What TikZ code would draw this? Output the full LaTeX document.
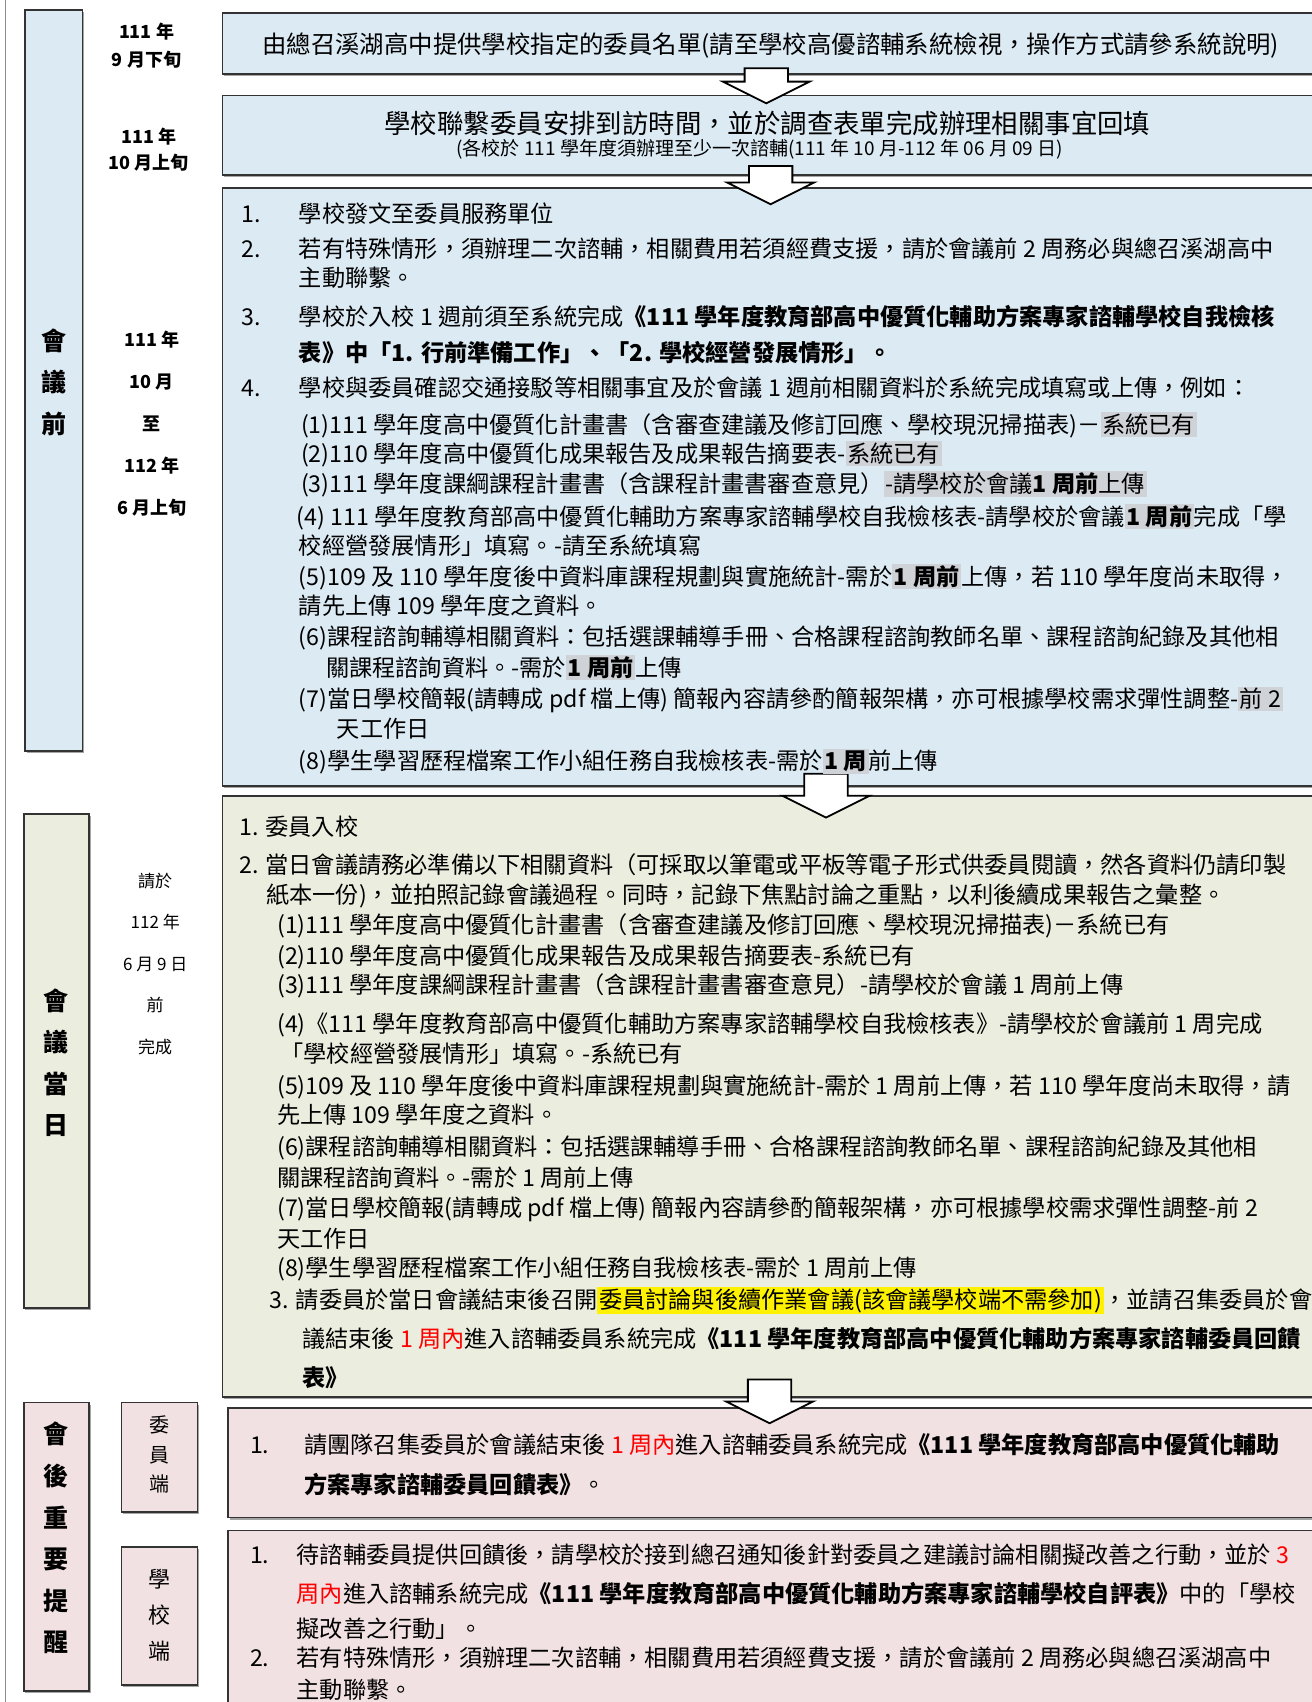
\documentclass[tikz,border=0pt]{standalone}
\usepackage{fontspec}
\setmainfont{Noto Sans CJK TC}
\usetikzlibrary{fit,calc,shadows}

\definecolor{boxblue}{HTML}{DCEAF4}
\definecolor{boxgreen}{HTML}{EBEEDF}
\definecolor{boxpink}{HTML}{F2E1E2}
\definecolor{hlgray}{HTML}{CFD3D8}
\definecolor{framegray}{HTML}{333333}

\newcommand{\graymark}[1]{{\setlength{\fboxsep}{0.8pt}\colorbox{hlgray}{#1}}}
\newcommand{\yellowmark}[1]{{\setlength{\fboxsep}{0.8pt}\colorbox{yellow}{#1}}}
\newcommand{\redmark}[1]{\textcolor{red}{#1}}
\newcommand{\flowarrow}[5]{%
  \coordinate (arr-x) at (#3,0);
  \draw[blockarrow] ($(arr-x |- #1.south)+(-20,#4)$) -- ($(arr-x |- #1.south)+(20,#4)$)
    -- ($(arr-x |- #2.north)+(20,#5)$) -- ($(arr-x |- #2.north)+(40,#5)$)
    -- ($(arr-x |- #2.north)+(0,{#5+20})$) -- ($(arr-x |- #2.north)+(-40,#5)$)
    -- ($(arr-x |- #2.north)+(-20,#5)$) -- cycle;}

\begin{document}
\begin{tikzpicture}[x=0.5427pt,y=-0.5427pt,
    mainbox/.style={draw=framegray,line width=0.9pt,inner sep=0pt,
      drop shadow={shadow xshift=0.8pt,shadow yshift=-1.1pt,fill=black!70}},
    sidebox/.style={mainbox},
    blockarrow/.style={draw=black,line width=0.9pt,fill=white,line join=miter},
    body/.style={anchor=west,inner sep=0pt,text height=10.2pt,text depth=1.4pt,
      font=\fontsize{11.6}{14}\selectfont},
    phaselabel/.style={align=center,inner sep=0pt,font=\bfseries\fontsize{12.5}{20.8}\selectfont},
    datelabel/.style={align=center,inner sep=0pt,font=\bfseries\fontsize{9}{14}\selectfont}]
  \fill[white] (0,0) rectangle (1208,1568);
  \useasboundingbox (0,0) rectangle (1208,1568);
  \draw[black!45,line width=0.6pt] (5,0) -- (5,1568);

  % phase column
  \node[sidebox,fill=boxblue,fit={(23,9) (76,692)}] (pre) {};
  \node[sidebox,fill=boxgreen,fit={(22,750) (82,1205)}] (day) {};
  \node[sidebox,fill=boxpink,fit={(22,1292) (82,1558)}] (post) {};
  \node[sidebox,fill=boxpink,fit={(112,1292) (182,1393)}] (post-cmte) {};
  \node[sidebox,fill=boxpink,fit={(112,1425) (182,1552)}] (post-school) {};
  \node[phaselabel] (pre-label) at (50,352) {會\\議\\前};
  \node[phaselabel] (day-label) at (52,979) {會\\議\\當\\日};
  \node[phaselabel] (post-label) at (52,1417) {會\\後\\重\\要\\提\\醒};
  \node[phaselabel,font=\fontsize{10}{14.9}\selectfont] (cmte-label) at (147,1340) {委\\員\\端};
  \node[phaselabel,font=\fontsize{11}{18.2}\selectfont] (school-label) at (147,1488) {學\\校\\端};

  % dates
  \node[datelabel] (date-a) at (135,42) {111 年\\9 月下旬};
  \node[datelabel,font=\bfseries\fontsize{9}{13}\selectfont] (date-b) at (137,138) {111 年\\10 月上旬};
  \node[datelabel,font=\bfseries\fontsize{9}{21}\selectfont] (date-c) at (140,390) {111 年\\10 月\\至\\112 年\\6 月上旬};
  \node[datelabel,font=\fontsize{8.5}{20.8}\selectfont] (date-d) at (143,888) {請於\\112 年\\6 月 9 日\\前\\完成};

  % steps
  \node[mainbox,fill=boxblue,fit={(205,12) (1215,68)}] (box-a) {};
  \node[mainbox,fill=boxblue,fit={(205,88) (1215,161)}] (box-b) {};
  \node[mainbox,fill=boxblue,fit={(205,173) (1215,724)}] (box-c) {};
  \node[mainbox,fill=boxgreen,fit={(205,733) (1215,1287)}] (box-d) {};
  \node[mainbox,fill=boxpink,fit={(210,1297) (1215,1398)}] (box-e) {};
  \node[mainbox,fill=boxpink,fit={(210,1410) (1215,1580)}] (box-f) {};

  \flowarrow{box-a}{box-b}{706}{-6}{-12}
  \flowarrow{box-b}{box-c}{710}{-9}{-4}
  \flowarrow{box-c}{box-d}{761}{-12}{1}
  \flowarrow{box-d}{box-e}{709}{-17}{-5}

  \node[inner sep=0pt,font=\fontsize{12.2}{14}\selectfont] (a-text) at (710,42) {由總召溪湖高中提供學校指定的委員名單(請至學校高優諮輔系統檢視，操作方式請參系統說明)};
  \node[inner sep=0pt,font=\fontsize{13.2}{15}\selectfont] (b-text) at (707,114) {學校聯繫委員安排到訪時間，並於調查表單完成辦理相關事宜回填};
  \node[inner sep=0pt,font=\fontsize{9.5}{11}\selectfont] (b-note) at (700,138) {(各校於 111 學年度須辦理至少一次諮輔(111 年 10 月-112 年 06 月 09 日)};

  % before the meeting
  \node[body] (c-n1) at (222,197) {1.};
  \node[body] (c1) at (275,197) {學校發文至委員服務單位};
  \node[body] (c-n2) at (222,229) {2.};
  \node[body] (c2a) at (275,229) {若有特殊情形，須辦理二次諮輔，相關費用若須經費支援，請於會議前 2 周務必與總召溪湖高中};
  \node[body] (c2b) at (275,256) {主動聯繫。};
  \node[body] (c-n3) at (222,292) {3.};
  \node[body] (c3a) at (275,292) {學校於入校 1 週前須至系統完成\textbf{《111 學年度教育部高中優質化輔助方案專家諮輔學校自我檢核}};
  \node[body] (c3b) at (275,325) {\textbf{表》中「1. 行前準備工作」、「2. 學校經營發展情形」。}};
  \node[body] (c-n4) at (222,357) {4.};
  \node[body] (c4) at (275,357) {學校與委員確認交通接駁等相關事宜及於會議 1 週前相關資料於系統完成填寫或上傳，例如：};
  \node[body] (c4-1) at (277,391) {(1)111 學年度高中優質化計畫書（含審查建議及修訂回應、學校現況掃描表)－\graymark{系統已有}};
  \node[body] (c4-2) at (277,418) {(2)110 學年度高中優質化成果報告及成果報告摘要表-\graymark{系統已有}};
  \node[body] (c4-3) at (277,446) {(3)111 學年度課綱課程計畫書（含課程計畫書審查意見）\graymark{-請學校於會議\textbf{1 周前}上傳}};
  \node[body] (c4-4a) at (273,476) {(4) 111 學年度教育部高中優質化輔助方案專家諮輔學校自我檢核表-請學校於會議\graymark{\textbf{1 周前}}完成「學};
  \node[body] (c4-4b) at (275,503) {校經營發展情形」填寫。-請至系統填寫};
  \node[body] (c4-5a) at (275,531) {(5)109 及 110 學年度後中資料庫課程規劃與實施統計-需於\graymark{\textbf{1 周前}}上傳，若 110 學年度尚未取得，};
  \node[body] (c4-5b) at (275,558) {請先上傳 109 學年度之資料。};
  \node[body] (c4-6a) at (275,587) {(6)課程諮詢輔導相關資料：包括選課輔導手冊、合格課程諮詢教師名單、課程諮詢紀錄及其他相};
  \node[body] (c4-6b) at (300,615) {關課程諮詢資料。-需於\graymark{\textbf{1 周前}}上傳};
  \node[body] (c4-7a) at (275,644) {(7)當日學校簡報(請轉成 pdf 檔上傳) 簡報內容請參酌簡報架構，亦可根據學校需求彈性調整-\graymark{前 2}};
  \node[body] (c4-7b) at (310,671) {天工作日};
  \node[body] (c4-8) at (275,701) {(8)學生學習歷程檔案工作小組任務自我檢核表-需於\graymark{\textbf{1 周}}前上傳};

  % meeting day
  \node[body] (d1) at (220,762) {1. 委員入校};
  \node[body] (d2a) at (220,797) {2. 當日會議請務必準備以下相關資料（可採取以筆電或平板等電子形式供委員閱讀，然各資料仍請印製};
  \node[body] (d2b) at (245,824) {紙本一份)，並拍照記錄會議過程。同時，記錄下焦點討論之重點，以利後續成果報告之彙整。};
  \node[body] (d2-1) at (255,852) {(1)111 學年度高中優質化計畫書（含審查建議及修訂回應、學校現況掃描表)－系統已有};
  \node[body] (d2-2) at (255,880) {(2)110 學年度高中優質化成果報告及成果報告摘要表-系統已有};
  \node[body] (d2-3) at (255,907) {(3)111 學年度課綱課程計畫書（含課程計畫書審查意見）-請學校於會議 1 周前上傳};
  \node[body] (d2-4a) at (255,943) {(4)《111 學年度教育部高中優質化輔助方案專家諮輔學校自我檢核表》-請學校於會議前 1 周完成};
  \node[body] (d2-4b) at (258,971) {「學校經營發展情形」填寫。-系統已有};
  \node[body] (d2-5a) at (255,1000) {(5)109 及 110 學年度後中資料庫課程規劃與實施統計-需於 1 周前上傳，若 110 學年度尚未取得，請};
  \node[body] (d2-5b) at (255,1027) {先上傳 109 學年度之資料。};
  \node[body] (d2-6a) at (255,1056) {(6)課程諮詢輔導相關資料：包括選課輔導手冊、合格課程諮詢教師名單、課程諮詢紀錄及其他相};
  \node[body] (d2-6b) at (255,1085) {關課程諮詢資料。-需於 1 周前上傳};
  \node[body] (d2-7a) at (255,1113) {(7)當日學校簡報(請轉成 pdf 檔上傳) 簡報內容請參酌簡報架構，亦可根據學校需求彈性調整-前 2};
  \node[body] (d2-7b) at (255,1141) {天工作日};
  \node[body] (d2-8) at (255,1168) {(8)學生學習歷程檔案工作小組任務自我檢核表-需於 1 周前上傳};
  \node[body] (d3a) at (248,1197) {3. 請委員於當日會議結束後召開\yellowmark{委員討論與後續作業會議(該會議學校端不需參加)}，並請召集委員於會};
  \node[body] (d3b) at (278,1233) {議結束後 \redmark{1 周內}進入諮輔委員系統完成\textbf{《111 學年度教育部高中優質化輔助方案專家諮輔委員回饋}};
  \node[body] (d3c) at (278,1269) {\textbf{表》}};

  % after the meeting
  \node[body] (e-n1) at (230,1331) {1.};
  \node[body] (e1a) at (280,1331) {請團隊召集委員於會議結束後 \redmark{1 周內}進入諮輔委員系統完成\textbf{《111 學年度教育部高中優質化輔助}};
  \node[body] (e1b) at (280,1368) {\textbf{方案專家諮輔委員回饋表》}。};
  \node[body] (f-n1) at (230,1432) {1.};
  \node[body] (f1a) at (273,1432) {待諮輔委員提供回饋後，請學校於接到總召通知後針對委員之建議討論相關擬改善之行動，並於 \redmark{3}};
  \node[body] (f1b) at (273,1468) {\redmark{周內}進入諮輔系統完成\textbf{《111 學年度教育部高中優質化輔助方案專家諮輔學校自評表》}中的「學校};
  \node[body] (f1c) at (273,1500) {擬改善之行動」。};
  \node[body] (f-n2) at (230,1527) {2.};
  \node[body] (f2a) at (273,1527) {若有特殊情形，須辦理二次諮輔，相關費用若須經費支援，請於會議前 2 周務必與總召溪湖高中};
  \node[body] (f2b) at (273,1557) {主動聯繫。};
\end{tikzpicture}
\end{document}
